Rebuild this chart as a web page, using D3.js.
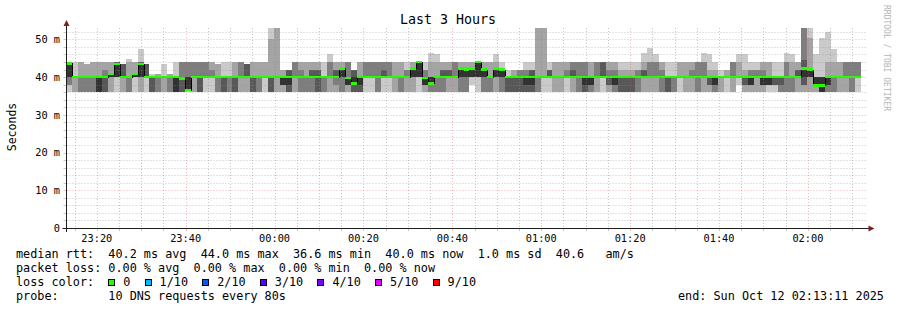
<!DOCTYPE html>
<html>
<head>
<meta charset="utf-8">
<script src="https://cdn.jsdelivr.net/npm/d3@7"></script>
<style>
body { margin: 0; background: #fff; }
svg { display: block; }
text { font-family: "DejaVu Sans Mono", monospace; fill: #000; }
</style>
</head>
<body>
<svg id="chart" width="897" height="310"></svg>
<script>
// one row per 80s step: the 10 sorted ping times in ms
var pings = [
	[36,38,38,40,40,43.6,44,44,44,44],
	[36,36,40,40,40,40,40,40,40,44],
	[36,36,36,40,40,40,40,40,44,44],
	[36,36,36,40,40,40,40,40,43.4,43.4],
	[36,36,36,40,40,40,40,40,44,44],
	[36,36,36,36,36,40,40,40,44,44],
	[36,36,36,36,40,40,40,42,44,44],
	[36,36,40,40,40,40.8,40.8,40.8,44,44],
	[36,40,40,40,40,43.5,44,44,44,44],
	[36,36,40,40,40,40,43.4,43.4,43.4,43.4],
	[36,36,36,40,40,40,40,40,44,44.8],
	[36,40,40,40,40,40.8,40.8,40.8,44,44],
	[36,36,40,40,40,43.5,44,44,44,47.4],
	[36,40,40,40,40,40,43.4,43.4,43.4,43.4],
	[36,36,36,36,40,40,40,40,40,40.7],
	[36,36,36,40,40,40,40,40,40.7,40.7],
	[36,36,40,40,40,40,40,40,40,43.4],
	[36,36,36,40,40,40,40,40,40.7,40.7],
	[36,36,36,36,36,40,40,40,40,44],
	[36,36,36,36,39.6,40,40,44,44,44],
	[36,36.6,36.6,36.6,36.6,40,40,44,44,44],
	[36,36,40,40,40,40,40,44,44,44],
	[36,36,36,36,40,40,40,44,44,44],
	[36,40,40,40,40,40,40,44,44,44],
	[36,40,40,40,40,40,40,42,44,44],
	[36,36,36,40,40,40,40,40,43.4,43.4],
	[36,36,36,36,40,40,40,40,40,44],
	[36,36,36,40,40,40,40,40,40,44],
	[36,36,36,36,40,40,40,40,44,44],
	[36,36,40,40,40,40,40,44,44,44],
	[36,36,40,40,40,40,43.4,43.4,43.4,43.4],
	[36,36,36,36,40,40,40,40,44,44],
	[36,36,36,40,40,40,40,40,44,44],
	[36,40,40,40,40,40,40,40,44,44],
	[36,36,36,36,40,40,40,40,50.2,53],
	[36,36,40,40,40,40,40,40,53,53],
	[36,36,38,38,38,40,40,40,42,42],
	[36,36,36,36,38,40,42,42,42,42],
	[36,36,40,40,40,40,40,44,44,44],
	[36,36,36,40,40,40,40,42,44,44],
	[36,36,36,40,40,40,40,40,44,44],
	[36,36,36,40,40,40,42,42,44,44],
	[36,36,36,36,40,40,42,42,44,44],
	[36,36,36,40,40,40,40,40,40,44],
	[36,36,40,40,40,40,40,44,44,46],
	[36,36,38,40,40,40,42,42,44,44],
	[36,36,36,40,40,42.3,42.3,42.3,44,44],
	[36,36,38,38,38,39.8,40,44,44,44],
	[36,36,36,36,38.3,40,42,42,42,42],
	[36,36,36,36,38,40,40,40,44,44],
	[36,40,40,40,40,40,40,44,44,44],
	[36,40,40,40,40,40,40,44,44,44],
	[36,36,36,40,40,40,40,44,44,44],
	[36,40,40,40,40,40,42,44,44,44],
	[36,40,40,40,40,40,40,44,44,44],
	[36,36,40,40,40,40,40,40,44,44],
	[36,36,36,40,40,40,40,40,44,44],
	[36,36,40,40,40,40,40,42,42,44],
	[36,36,40,40,40,42.3,42.3,42.3,44,44],
	[36,40,40,40,40,44,44.3,44.3,44.3,44.3],
	[36,36,38,38,38,39.8,40,42,42,44],
	[36,36,36,38.3,38.3,40,40,40,44,46.3],
	[36,36,36,40,40,40,40,40,44,46],
	[36,36,36,40,40,40,42,42,44,44],
	[36,36,40,40,40,40,42,42,44,44],
	[36,36,40,40,40,40,40,44,44,44],
	[36,36,36,40,40,42.3,42.3,42.3,44,44],
	[36,36,36,40,40,42,42,42,44,44],
	[38,40,40,40,40,42.3,42.3,42.3,44,44],
	[36,40,40,40,40,44,44.3,44.3,44.3,44.3],
	[36,36,36,40,40,42,42,42,44,44],
	[36,36,36,40,40,40,40,40,44,44],
	[36,36,40,40,40,42.3,42.3,42.3,44,46],
	[36,36,36,40,40,42,42,42,42,44],
	[36,36,36,36,40,40,40,40,40,42],
	[36,36,36,36,40,40,40,40,42,42],
	[36,36,36,36,40,40,40,42,42,42],
	[36,36,36,36,38,40,40,42,42,44],
	[36,36,36,36,38,40,42,42,42,44],
	[36,36,36,40,40,40,40,40,53,53],
	[36,40,40,40,40,40,40,40,53,53],
	[36,40,40,40,40,40,42,42,42,44],
	[36,36,40,40,40,40,40,40,44,44],
	[36,36,40,40,40,40,40,40,44,44],
	[36,40,40,40,40,40,40,42,44,44],
	[36,36,40,40,40,40,42,44,44,44],
	[36,36,36,40,40,40,40,44,44,44],
	[36,36,36,36,38,40,40,44,44,44],
	[36,36,36,38,38,40,40,40,44,44],
	[36,36,40,40,40,40,40,44,44,44],
	[36,40,40,40,40,40,44,44,44,44],
	[36,36,38,38,40,40,40,42,44,44],
	[36,36,36,38,38,40,40,42,44,44],
	[36,36,36,36,40,40,40,40,42,44],
	[36,36,36,36,40,40,40,40,42,44],
	[36,36,36,36,40,40,40,40,42,44],
	[36,36,36,40,40,40,40,42,42,44],
	[36,36,40,40,40,40,42,42,44,46.3],
	[36,36,40,40,40,40,40,44,44,47.8],
	[36,36,40,40,40,40,40,44,44,46],
	[36,36,36,40,40,40,40,42,44,44],
	[36,36,36,36,40,40,40,40,40,44],
	[36,36,36,40,40,40,40,40,40,44],
	[36,40,40,40,40,40,40,40,44,44],
	[36,36,40,40,40,40,40,40,44,44],
	[36,36,40,40,40,40,40,42,44,44],
	[36,36,36,40,40,40,40,44,44,44],
	[36,36,40,40,40,40,40,44,44,46.3],
	[36,36,38,38,40,40,40,40,42,46],
	[36,36,36,38,38,40,40,40,42,44],
	[36,36,40,40,40,40,40,40,40,42],
	[36,40,40,40,40,40,40,40,42,42],
	[36,36,40,40,40,40,40,44,44,44],
	[38,40,40,40,40,40,40,40,44,46],
	[36,36,38,38,40,40,40,40,42,46],
	[36,36,38,38,38,40,40,42,42,44],
	[36,36,40,40,40,40,40,42,42,44],
	[36,36,38,38,38,40,40,42,44,44],
	[36,38,38,38,38,40,40,40,44,44],
	[36,38,38,38,40,40,40,40,40,44],
	[36,36,36,38,40,40,40,40,40,44],
	[36,36,36,40,40,40,40,44,44,46.3],
	[36,36,36,40,40,40,40,40,44,46],
	[36,36,40,40,40,40,42,42,44,44],
	[36,36,38,38,40,42.3,44.5,53,53,53],
	[36,36,40,40,40,42,42,42,50.4,53],
	[36,36,37.8,37.8,37.8,40,40,40,40,46],
	[36,36,36,36,36,40,40,40,40,50.4],
	[36,36,36,38,38,40,40,40,44,52],
	[36,36,36,40,40,40,40,40,44,47.4],
	[36,36,40,40,40,40,40,40,44,44],
	[36,36,40,40,40,40,40,44,44,44],
	[36,36,36,40,40,40,40,44,44,44],
	[36,40,40,40,40,40,40,44,44,44]
];

// median rtt per step, ms
var medians = [
	43.6,40,40,40,40,40,40,40.8,43.5,40,
	40,40.8,43.5,40,40,40,40,40,40,39.6,
	36.6,40,40,40,40,40,40,40,40,40,
	40,40,40,40,40,40,40,40,40,40,
	40,40,40,40,40,40,42.3,39.8,38.3,40,
	40,40,40,40,40,40,40,40,42.3,44.0,
	39.8,38.3,40,40,40,40,42.3,42.0,42.3,44.0,
	42.0,40,42.3,42.0,40,40,40,40,40,40,
	40,40,40,40,40,40,40,40,40,40,
	40,40,40,40,40,40,40,40,40,40,
	40,40,40,40,40,40,40,40,40,40,
	40,40,40,40,40,40,40,40,40,40,
	40,40,40,40,42.3,42.0,37.8,37.8,40,40,
	40,40,40,40
];

var smokeGrays = ["#cacaca", "#a4a4a4", "#7e7e7e", "#585858", "#323232"];
var lossLabels = ["0", "1/10", "2/10", "3/10", "4/10", "5/10", "9/10"];
var lossColors = ["#26ff00", "#00b8ff", "#0059ff", "#5e00ff", "#7e00ff", "#dd00ff", "#ff0000"];

var yTicks = [0, 10, 20, 30, 40, 50];
var yTickLabels = ["0", "10 m", "20 m", "30 m", "40 m", "50 m"];
var xTicks = ["2025-10-11T23:20:00Z", "2025-10-11T23:40:00Z", "2025-10-12T00:00:00Z",
	"2025-10-12T00:20:00Z", "2025-10-12T00:40:00Z", "2025-10-12T01:00:00Z",
	"2025-10-12T01:20:00Z", "2025-10-12T01:40:00Z", "2025-10-12T02:00:00Z"];
var xTickLabels = ["23:20", "23:40", "00:00", "00:20", "00:40", "01:00", "01:20", "01:40", "02:00"];

var legendLines = [
	"median rtt:  40.2 ms avg  44.0 ms max  36.6 ms min  40.0 ms now  1.0 ms sd  40.6   am/s",
	"packet loss: 0.00 % avg  0.00 % max  0.00 % min  0.00 % now",
	"loss color:",
	"probe:       10 DNS requests every 80s"
];
var endLabel = "end: Sun Oct 12 02:13:11 2025";

var step = 80; // seconds
var endTime = new Date("2025-10-12T02:13:11Z");
var startTime = new Date(endTime.getTime() - 3 * 3600 * 1000);

var plotLeft = 66.5, plotRight = 866.5, plotTop = 28, plotBottom = 228;
var gridColor = "rgba(143,143,143,0.5)";
var mgridColor = "rgba(222,79,79,0.4)";
var axisColor = "#1f1f1f";
var arrowColor = "#801f1f";

var svg = d3.select("#chart");
svg.append("rect").attr("width", 897).attr("height", 310).attr("fill", "#fff");

var x = d3.scaleUtc().domain([startTime, endTime]).range([plotLeft, plotRight]);
var y = d3.scaleLinear().domain([0, 53]).range([plotBottom, plotTop]);

var cols = pings.map(function(p, k) {
	return {
		p: p,
		med: medians[k],
		t0: new Date(startTime.getTime() + k * step * 1000),
		t1: new Date(startTime.getTime() + (k + 1) * step * 1000)
	};
});

//smoke: band i spans ping i .. ping (n+1-i), inner bands darker
var smoke = svg.append("g").attr("shape-rendering", "crispEdges");
smokeGrays.forEach(function(color, b) {
	smoke.selectAll(null)
		.data(cols)
		.enter().append("rect")
		.attr("x", function(d) { return Math.round(x(d.t0)); })
		.attr("width", function(d) { return Math.round(x(d.t1)) - Math.round(x(d.t0)); })
		.attr("y", function(d) { return Math.round(y(d.p[9 - b])); })
		.attr("height", function(d) { return Math.round(y(d.p[b])) - Math.round(y(d.p[9 - b])); })
		.attr("fill", color);
});

//median: thin black step line under the loss coloured band
var medLine = d3.line()
	.x(function(d) { return Math.round(x(d.t)); })
	.y(function(d) { return Math.round(y(d.m)) + 0.5; })
	.curve(d3.curveStepAfter);
var medPts = cols.map(function(d) { return { t: d.t0, m: d.med }; });
medPts.push({ t: cols[cols.length - 1].t1, m: cols[cols.length - 1].med });
svg.append("path")
	.attr("d", medLine(medPts))
	.attr("fill", "none")
	.attr("stroke", "#000")
	.attr("stroke-width", 1)
	.attr("shape-rendering", "crispEdges");

svg.append("g").attr("shape-rendering", "crispEdges")
	.selectAll("rect")
	.data(cols)
	.enter().append("rect")
	.attr("x", function(d) { return Math.round(x(d.t0)); })
	.attr("width", function(d) { return Math.round(x(d.t1)) - Math.round(x(d.t0)); })
	.attr("y", function(d) { return Math.round(y(d.med) - 1.2); })
	.attr("height", function(d) { return Math.round(y(d.med) + 1.2) - Math.round(y(d.med) - 1.2); })
	.attr("fill", lossColors[0]);

//grid, drawn over the graph like rrdtool does
var grid = svg.append("g");
function hline(v, color) {
	var py = Math.round(y(v)) + 0.5;
	grid.append("line")
		.attr("x1", plotLeft).attr("x2", plotRight)
		.attr("y1", py).attr("y2", py)
		.attr("stroke", color).attr("stroke-dasharray", "1,2");
	grid.append("line")
		.attr("x1", plotLeft - 3).attr("x2", plotLeft)
		.attr("y1", py).attr("y2", py)
		.attr("stroke", color);
}
function vline(t, color) {
	var px = Math.round(x(t)) + 0.5;
	grid.append("line")
		.attr("x1", px).attr("x2", px)
		.attr("y1", plotTop).attr("y2", plotBottom)
		.attr("stroke", color).attr("stroke-dasharray", "1,2");
	grid.append("line")
		.attr("x1", px).attr("x2", px)
		.attr("y1", plotBottom).attr("y2", plotBottom + 3)
		.attr("stroke", color);
}
d3.range(2, 53, 2).filter(function(v) { return v % 10 !== 0; })
	.forEach(function(v) { hline(v, gridColor); });
d3.utcMinute.every(5).range(startTime, endTime)
	.filter(function(t) { return t.getUTCMinutes() % 20 !== 0; })
	.forEach(function(t) { vline(t, gridColor); });
yTicks.filter(function(v) { return v > 0; }).forEach(function(v) { hline(v, mgridColor); });
xTicks.forEach(function(s) { vline(new Date(s), mgridColor); });

//axes and arrows
svg.append("line")
	.attr("x1", plotLeft - 4).attr("x2", plotRight + 4)
	.attr("y1", plotBottom + 0.5).attr("y2", plotBottom + 0.5)
	.attr("stroke", axisColor);
svg.append("line")
	.attr("x1", plotLeft).attr("x2", plotLeft)
	.attr("y1", plotBottom + 4).attr("y2", plotTop - 4)
	.attr("stroke", axisColor);
svg.append("polygon")
	.attr("points", [[plotRight + 2, plotBottom - 2.5], [plotRight + 2, plotBottom + 3.5], [plotRight + 8, plotBottom + 0.5]].join(" "))
	.attr("fill", arrowColor);
svg.append("polygon")
	.attr("points", [[plotLeft - 3, plotTop - 2], [plotLeft + 3, plotTop - 2], [plotLeft, plotTop - 8]].join(" "))
	.attr("fill", arrowColor);

//tick labels
svg.append("g").selectAll("text")
	.data(yTicks)
	.enter().append("text")
	.attr("x", 60)
	.attr("y", function(d) { return y(d) + 3.8; })
	.attr("text-anchor", "end")
	.style("font-size", "10.3px")
	.text(function(d, i) { return yTickLabels[i]; });

svg.append("g").selectAll("text")
	.data(xTicks)
	.enter().append("text")
	.attr("x", function(d) { return x(new Date(d)); })
	.attr("y", 241.5)
	.attr("text-anchor", "middle")
	.style("font-size", "10.3px")
	.text(function(d, i) { return xTickLabels[i]; });

//title, unit label, watermark
svg.append("text")
	.attr("x", 448).attr("y", 24)
	.attr("text-anchor", "middle")
	.style("font-size", "13.3px")
	.text("Last 3 Hours");

svg.append("text")
	.attr("transform", "translate(15.5,127) rotate(-90)")
	.attr("text-anchor", "middle")
	.style("font-size", "11.5px")
	.text("Seconds");

svg.append("text")
	.attr("transform", "translate(884,5) rotate(90)")
	.style("font-size", "8px")
	.style("fill", "#b4b4b4")
	.text("RRDTOOL / TOBI OETIKER");

//legend
var charW = 7.1;
legendLines.forEach(function(s, i) {
	svg.append("text")
		.attr("x", 16).attr("y", 258 + i * 14)
		.attr("xml:space", "preserve")
		.style("white-space", "pre")
		.style("font-size", "11.8px")
		.text(s);
});

var cursor = 16 + 13 * charW;
lossLabels.forEach(function(lbl, i) {
	svg.append("rect")
		.attr("x", Math.round(cursor) + 0.5).attr("y", 279.5)
		.attr("width", 6).attr("height", 6)
		.attr("fill", lossColors[i])
		.attr("stroke", "#000");
	svg.append("text")
		.attr("x", cursor + 15).attr("y", 286)
		.style("font-size", "11.8px")
		.text(lbl);
	cursor += 15 + (lbl.length + 2) * charW;
});

svg.append("text")
	.attr("x", 678).attr("y", 300)
	.style("font-size", "11.8px")
	.text(endLabel);
</script>
</body>
</html>
